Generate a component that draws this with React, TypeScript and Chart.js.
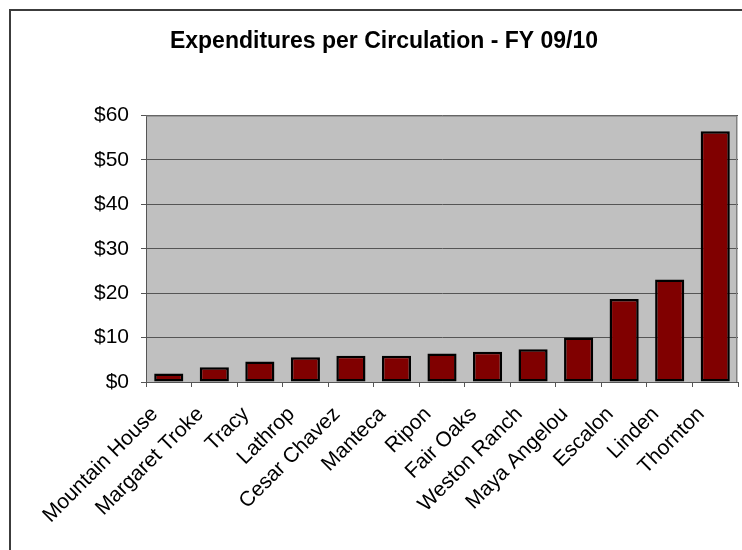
import React, { useEffect, useRef } from "react";
import { Chart, registerables } from "chart.js";

Chart.register(...registerables);

const categories = [
  "Mountain House",
  "Margaret Troke",
  "Tracy",
  "Lathrop",
  "Cesar Chavez",
  "Manteca",
  "Ripon",
  "Fair Oaks",
  "Weston Ranch",
  "Maya Angelou",
  "Escalon",
  "Linden",
  "Thornton",
];
const expenditures = [1.9, 3.3, 4.6, 5.6, 5.9, 5.9, 6.4, 6.8, 7.4, 10.0, 18.7, 23.1, 56.5];
const yTicks = [0, 10, 20, 30, 40, 50, 60];
const titleText = "Expenditures per Circulation - FY 09/10";

const FONT = "'Liberation Sans', Arial, sans-serif";

const plotBg = {
  id: "plotBg",
  beforeDraw(chart: any) {
    const { ctx, chartArea } = chart;
    if (!chartArea) return;
    ctx.save();
    ctx.fillStyle = "#C0C0C0";
    ctx.fillRect(chartArea.left, chartArea.top, chartArea.right - chartArea.left, chartArea.bottom - chartArea.top);
    ctx.restore();
  },
  afterDraw(chart: any) {
    const { ctx, chartArea } = chart;
    if (!chartArea) return;
    ctx.save();
    ctx.strokeStyle = "#808080";
    ctx.lineWidth = 1;
    ctx.beginPath();
    ctx.moveTo(chartArea.left, chartArea.top + 0.5);
    ctx.lineTo(chartArea.right - 1.5, chartArea.top + 0.5);
    ctx.lineTo(chartArea.right - 1.5, chartArea.bottom);
    ctx.stroke();
    ctx.restore();
  },
};

export default function App() {
  const ref = useRef<HTMLCanvasElement | null>(null);
  useEffect(() => {
    if (!ref.current) return;
    const chart = new Chart(ref.current, {
      type: "bar",
      data: {
        labels: categories,
        datasets: [
          {
            data: expenditures,
            backgroundColor: "#800000",
            borderColor: "#000000",
            borderWidth: 2.5,
            borderSkipped: false,
            barPercentage: 0.64,
            categoryPercentage: 1,
          },
        ],
      },
      options: {
        responsive: false,
        animation: false,
        layout: { padding: { left: 30, right: 4, top: 0, bottom: 0 } },
        plugins: {
          legend: { display: false },
          tooltip: { enabled: false },
          title: {
            display: true,
            text: titleText,
            color: "#000",
            font: { family: FONT, size: 23, weight: "bold" },
            padding: { top: 28, bottom: 60 },
          },
        },
        scales: {
          x: {
            offset: true,
            grid: {
              display: true,
              drawOnChartArea: false,
              drawTicks: true,
              tickLength: 5,
              color: "#555555",
              offset: true,
            },
            border: { color: "#555555", width: 1 },
            ticks: {
              autoSkip: false,
              minRotation: 45,
              maxRotation: 45,
              color: "#000",
              font: { family: FONT, size: 21 },
              padding: 15,
              labelOffset: -14,
            },
            afterFit(scale: any) {
              scale.height = 168;
              scale.paddingLeft = 0;
              scale.paddingRight = 0;
            },
          },
          y: {
            min: 0,
            max: 60,
            afterBuildTicks(scale: any) {
              scale.ticks = yTicks.map((v) => ({ value: v }));
            },
            grid: {
              color: "#555555",
              lineWidth: 1,
              tickLength: 5,
            },
            border: { color: "#555555", width: 1 },
            ticks: {
              color: "#000",
              font: { family: FONT, size: 21 },
              padding: 12,
              callback: (v: any) => "$" + v,
            },
            afterFit(scale: any) {
              scale.width = 116;
            },
          },
        },
      },
      plugins: [plotBg],
    });
    return () => chart.destroy();
  }, []);

  return (
    <>
      <canvas
        ref={ref}
        width={742}
        height={550}
        style={{ position: "absolute", left: 0, top: 0, width: 742, height: 550 }}
      />
      <div
        style={{
          position: "absolute",
          left: 9,
          top: 9,
          width: 733,
          height: 541,
          boxSizing: "border-box",
          borderLeft: "2px solid #3c3c3c",
          borderTop: "2px solid #3c3c3c",
          pointerEvents: "none",
        }}
      />
    </>
  );
}
